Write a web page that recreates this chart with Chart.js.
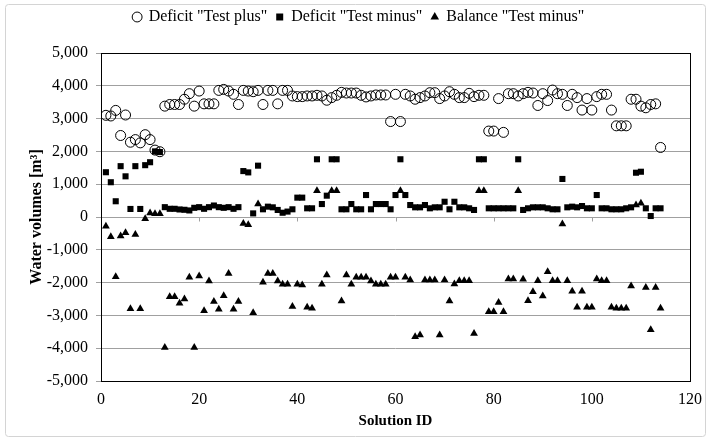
<!DOCTYPE html>
<html><head><meta charset="utf-8">
<script src="https://cdn.jsdelivr.net/npm/chart.js@4.4.0/dist/chart.umd.min.js"></script>
<style>html,body{margin:0;padding:0;background:#fff;}canvas{display:block;}</style>
</head><body>
<canvas id="c" width="711" height="442"></canvas>
<script>
const solutionIds = [1,2,3,4,5,6,7,8,9,10,11,12,13,14,15,16,17,18,19,20,21,22,23,24,25,26,27,28,29,30,
31,32,33,34,35,36,37,38,39,40,41,42,43,44,45,46,47,48,49,50,51,52,53,54,55,56,57,58,59,60,
61,62,63,64,65,66,67,68,69,70,71,72,73,74,75,76,77,78,79,80,81,82,83,84,85,86,87,88,89,90,
91,92,93,94,95,96,97,98,99,100,101,102,103,104,105,106,107,108,109,110,111,112,113,114];

const deficitTestPlus = [3100,3080,3250,2485,3110,2280,2360,2260,2510,2360,
2040,1990,3380,3430,3430,3430,3590,3760,3380,3840,
3450,3450,3450,3860,3890,3840,3740,3430,3860,3840,
3820,3860,3430,3860,3860,3450,3860,3860,3690,3670,
3670,3690,3690,3710,3690,3560,3640,3710,3800,3780,
3780,3780,3710,3660,3690,3720,3720,3720,2910,3740,
2910,3740,3690,3590,3640,3690,3790,3790,3610,3690,
3820,3740,3640,3640,3770,3670,3710,3710,2620,2620,
3610,2580,3760,3760,3690,3760,3800,3780,3400,3760,
3550,3870,3760,3740,3400,3740,3640,3260,3610,3260,
3670,3740,3740,3260,2780,2780,2780,3590,3590,3380,
3330,3430,3450,2120];

const deficitTestMinus = [1365,1060,480,1550,1240,245,1550,245,1580,1670,
2000,1980,300,250,250,230,220,200,280,300,
250,300,350,300,280,300,250,300,1400,1360,
110,1565,235,315,295,215,130,165,235,590,
590,265,265,1760,395,650,1760,1760,235,235,
395,235,235,670,235,395,395,395,235,670,
1760,670,365,295,295,365,265,295,295,465,
235,465,295,295,265,215,1760,1760,265,265,
265,265,265,265,1760,215,265,295,295,295,
265,235,235,1160,295,315,295,335,265,265,
670,265,265,235,235,235,265,295,1350,1380,
265,30,265,265];

const balanceTestMinus = [-285,-600,-1820,-580,-480,-2800,-530,-2800,-50,120,
100,100,-3980,-2430,-2430,-2630,-2500,-1840,-3980,-1800,
-2860,-1950,-2580,-2810,-2400,-1720,-2810,-2580,-200,-240,
-2920,400,-1990,-1720,-1720,-1950,-2050,-2050,-2730,-2050,
-2070,-2750,-2780,800,-2050,-1770,800,800,-2560,-1770,
-2050,-1840,-1840,-1840,-1950,-2050,-2050,-2050,-1840,-1840,
800,-1840,-1920,-3650,-3600,-1920,-1920,-1920,-3600,-1920,
-2560,-2040,-1940,-1940,-1940,-3550,800,800,-2890,-2890,
-2610,-2890,-1890,-1890,800,-1900,-2550,-2280,-1940,-2410,
-1670,-1940,-1940,-210,-1940,-2260,-2750,-2260,-2750,-2750,
-1890,-1940,-1940,-2750,-2780,-2780,-2780,-2100,365,420,
-2150,-3440,-2150,-2780];

const seriesNames = ['Deficit "Test plus"', 'Deficit "Test minus"', 'Balance "Test minus"'];
const xTicks = [0, 20, 40, 60, 80, 100, 120];
const yTicks = [-5000, -4000, -3000, -2000, -1000, 0, 1000, 2000, 3000, 4000, 5000];

const toPoints = vals => vals.map((v, i) => ({x: solutionIds[i], y: v}));
const FONT = '"Liberation Serif", "Times New Roman", serif';
Chart.defaults.font.family = FONT;
Chart.defaults.color = '#111';

const framePlugin = {
  id: 'frame',
  beforeDraw(chart) {
    const ctx = chart.ctx;
    ctx.save();
    ctx.fillStyle = '#fff';
    ctx.fillRect(0, 0, chart.width, chart.height);
    ctx.strokeStyle = '#d4d4d4';
    ctx.lineWidth = 1;
    ctx.beginPath();
    ctx.roundRect(5.5, 4.5, 700, 432, 3);
    ctx.stroke();
    ctx.restore();
  },
  beforeDatasetsDraw(chart) {
    const {ctx, chartArea: a, scales: {x, y}} = chart;
    ctx.save();
    ctx.lineWidth = 1;
    const y0 = Math.round(y.getPixelForValue(0)) + 0.5;
    ctx.strokeStyle = '#a0a0a0';
    ctx.beginPath();
    xTicks.forEach(v => {
      const px = Math.round(x.getPixelForValue(v)) + 0.5;
      ctx.moveTo(px, y0);
      ctx.lineTo(px, y0 + 4);
    });
    ctx.stroke();
    ctx.strokeStyle = '#000';
    ctx.strokeRect(Math.round(a.left) + 0.5, Math.round(a.top) + 0.5,
                   Math.round(a.right - a.left), Math.round(a.bottom - a.top));
    ctx.restore();
  }
};

new Chart(document.getElementById('c'), {
  type: 'scatter',
  data: {
    datasets: [
      {label: seriesNames[0], data: toPoints(deficitTestPlus), pointStyle: 'circle', pointRadius: 5,
       borderColor: '#000', backgroundColor: 'rgba(0,0,0,0)', borderWidth: 1},
      {label: seriesNames[1], data: toPoints(deficitTestMinus), pointStyle: 'rect', pointRadius: 4.3,
       borderColor: '#000', backgroundColor: '#000', borderWidth: 0},
      {label: seriesNames[2], data: toPoints(balanceTestMinus), pointStyle: 'triangle', pointRadius: 4.5,
       borderColor: '#000', backgroundColor: '#000', borderWidth: 0}
    ]
  },
  options: {
    responsive: false,
    animation: false,
    devicePixelRatio: 1,
    layout: {padding: {top: 0, right: 20, bottom: 0, left: 27}},
    plugins: {
      legend: {
        position: 'top',
        labels: {usePointStyle: true, boxWidth: 7, boxHeight: 7, padding: 9,
                 color: '#000', font: {family: FONT, size: 16}}
      },
      title: {display: true, text: '', position: 'top', weight: 500,
              font: {size: 1}, padding: {top: 0, bottom: 16.8}},
      tooltip: {enabled: false}
    },
    scales: {
      x: {
        type: 'linear', min: 0, max: 120,
        afterFit(s) { s.height = 61; },
        afterBuildTicks(s) { s.ticks = xTicks.map(v => ({value: v})); },
        grid: {display: false, drawTicks: false},
        border: {display: false},
        ticks: {padding: 9, font: {size: 16}, color: '#000', maxRotation: 0},
        title: {display: true, text: 'Solution ID', color: '#000',
                font: {family: FONT, size: 15, weight: 'bold'}, padding: {top: 0, bottom: 12}}
      },
      y: {
        type: 'linear', min: -5000, max: 5000,
        afterFit(s) { s.width = 74; },
        afterBuildTicks(s) { s.ticks = yTicks.map(v => ({value: v})); },
        grid: {color: '#a0a0a0', lineWidth: 1, drawTicks: true, tickLength: 5},
        border: {display: false},
        ticks: {padding: 8, font: {size: 16}, color: '#000',
                callback: v => v.toLocaleString('en-US')},
        title: {display: true, text: 'Water volumes [m³]', color: '#000',
                font: {family: FONT, size: 16, weight: 'bold'}, padding: {top: 0, bottom: 0}}
      }
    }
  },
  plugins: [framePlugin]
});
</script>
</body></html>
